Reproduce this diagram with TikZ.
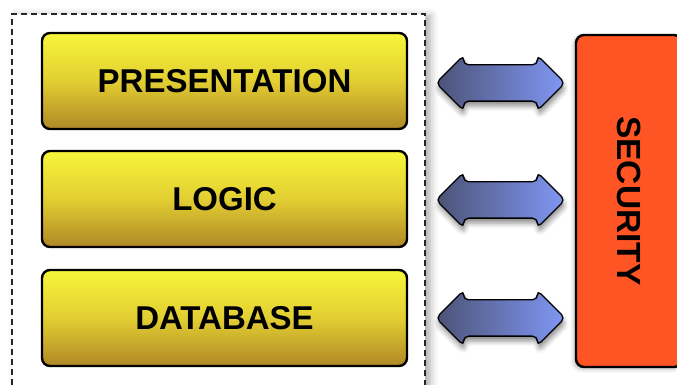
\documentclass[tikz,border=0pt]{standalone}
\usepackage{fontspec}
\setmainfont{Liberation Sans}
\usetikzlibrary{shapes.arrows,shadows.blur}
\definecolor{layertop}{RGB}{247,246,58}
\definecolor{layermid}{RGB}{226,206,50}
\definecolor{layerbot}{RGB}{176,136,38}
\definecolor{secfill}{RGB}{255,84,36}
\definecolor{arrowdark}{RGB}{76,82,118}
\definecolor{arrowlight}{RGB}{128,152,245}
\begin{document}
\begin{tikzpicture}[x=1pt,y=1pt,
  container/.style={draw=black!85, line width=1.4pt, dash pattern=on 6pt off 4pt,
    fill=white, blur shadow={shadow xshift=5pt, shadow yshift=-2pt, shadow blur radius=8pt, shadow opacity=35}},
  layer/.style={draw=black, line width=2.4pt, rounded corners=8pt,
    minimum width=365pt, minimum height=96pt, inner sep=0pt,
    top color=layertop, bottom color=layerbot, middle color=layermid,
    font=\fontsize{33}{38}\selectfont\bfseries},
  secbox/.style={draw=black, line width=2.4pt, rounded corners=8pt, fill=secfill,
    minimum width=332pt, minimum height=106pt, inner sep=0pt, rotate=-90,
    font=\fontsize{33.5}{38}\selectfont\bfseries,
    blur shadow={shadow xshift=-2pt, shadow yshift=-2pt, shadow blur radius=4pt, shadow opacity=30}},
  link/.style={double arrow, draw=black, line width=1.3pt, rounded corners=5pt,
    minimum height=129pt, inner xsep=0pt, inner ysep=17.5pt,
    double arrow head extend=9.5pt,
    left color=arrowdark, right color=arrowlight,
    blur shadow={shadow xshift=1pt, shadow yshift=-5pt, shadow blur radius=5pt, shadow opacity=45}}
]
\useasboundingbox (0,0) rectangle (677,385);

% dashed frame around the application tiers
\path[container] (12,-20) rectangle (425,371);

% tiers
\node[layer] (pres)  at (224.5,304) {PRESENTATION};
\node[layer] (logic) at (224.5,186) {LOGIC};
\node[layer] (db)    at (224.5,67)  {DATABASE};

% cross-cutting security column
\node[secbox] (sec) at (629,184) {SECURITY};

% two-way links between the tiers and security
\node[link] (linkA) at (500.5,302) {};
\node[link] (linkB) at (500.5,185) {};
\node[link] (linkC) at (500.5,67)  {};
\end{tikzpicture}
\end{document}
